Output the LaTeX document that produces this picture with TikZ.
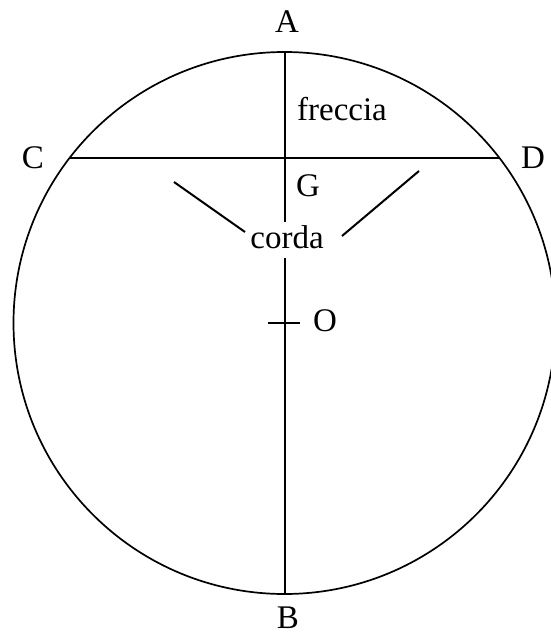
\documentclass[tikz,border=0pt]{standalone}
\usepackage{fontspec}
\setmainfont{Liberation Serif}
\begin{document}
\begin{tikzpicture}[x=1pt,y=-1pt,
  lbl/.style={inner sep=0pt,font=\fontsize{33}{40}\selectfont},
  thinline/.style={line width=2pt,black},
  rim/.style={line width=1.7pt,black}]
\useasboundingbox (0,0) rectangle (551,635);
\coordinate (Oc) at (284.5,323);
\coordinate (A) at (284.5,52);
\coordinate (B) at (284.5,594);
\coordinate (C) at (69.5,158);
\coordinate (D) at (499.5,158);
\coordinate (G) at (284.5,158);
\coordinate (Tl) at (268,323);
\coordinate (Tr) at (300,323);
\coordinate (L1) at (174,182);
\coordinate (L2) at (245,232);
\coordinate (R1) at (419,171);
\coordinate (R2) at (342,236);
\coordinate (V1) at (284.5,222);
\coordinate (V2) at (284.5,258);
% circle
\draw[rim] (Oc) circle (271);
% diameter with gap for label
\draw[thinline] (A) -- (V1);
\draw[thinline] (V2) -- (B);
% chord
\draw[thinline] (C) -- (D);
% tick at O
\draw[thinline] (Tl) -- (Tr);
% pointers
\draw[thinline] (L1) -- (L2);
\draw[thinline] (R1) -- (R2);
% labels
\node[lbl] (lA) at (287,22) {A};
\node[lbl] (lB) at (288,618) {B};
\node[lbl] (lC) at (33,158) {C};
\node[lbl] (lD) at (533,158) {D};
\node[lbl] (lG) at (308,186) {G};
\node[lbl] (lO) at (325,321) {O};
\node[lbl] (fr) at (342,109) {freccia};
\node[lbl] (co) at (287,237) {corda};
\end{tikzpicture}
\end{document}
